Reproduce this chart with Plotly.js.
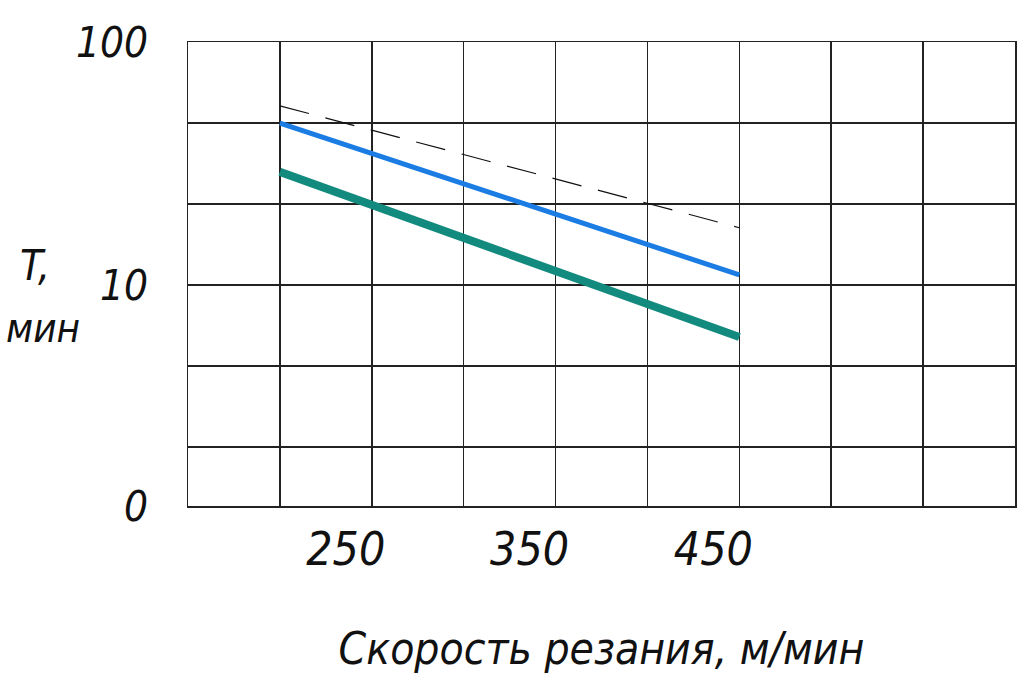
<!DOCTYPE html>
<html><head><meta charset="utf-8">
<script src="https://cdn.plot.ly/plotly-3.0.1.min.js"></script>
<style>html,body{margin:0;padding:0;background:#fff}#chart{width:1028px;height:682px}</style>
</head><body><div id="chart"></div>
<script>
const speed = [200, 450];
const tBlue = [46.4, 11.0];
const tTeal = [29.2, 6.1];
const tDashed = [54.6, 17.2];
const xTickVals = [250, 350, 450];
const xTickText = ['250', '350', '450'];
const yTickVals = [1.23, 2.154, 4.642, 10, 21.54, 46.42, 100];
const yTickText = ['0', '', '', '10', '', '', '100'];
const xTitle = 'Скорость резания, м/мин';
const yTitleLines = ['T,', 'мин'];

const F = '"DejaVu Sans Condensed", "Liberation Sans Narrow", sans-serif';
const traces = [
  {x: speed, y: tDashed, mode: 'lines', line: {color: '#111', width: 1.2, dash: '30px,17px'}, hoverinfo: 'skip'},
  {x: speed, y: tBlue, mode: 'lines', line: {color: '#1b7de3', width: 5}, hoverinfo: 'skip'},
  {x: speed, y: tTeal, mode: 'lines', line: {color: '#138a7e', width: 8}, hoverinfo: 'skip'}
];
const layout = {
  width: 1028, height: 682,
  margin: {l: 188, r: 13, t: 42, b: 176},
  paper_bgcolor: '#fff', plot_bgcolor: '#fff',
  showlegend: false,
  font: {family: F, color: '#111'},
  xaxis: {
    range: [150, 600],
    showgrid: true, gridcolor: '#222', gridwidth: 1.5,
    zeroline: false, showline: true, linecolor: '#222', linewidth: 1.5, mirror: true,
    tickmode: 'array', tickvals: [150,200,250,300,350,400,450,500,550,600],
    ticktext: ['', '', xTickText[0], '', xTickText[1], '', xTickText[2], '', '', ''],
    ticks: '', ticklabelstandoff: 2, ticklabelshift: -26,
    tickfont: {family: F, size: 46, style: 'italic', color: '#111'},
    title: {text: xTitle, standoff: 58, font: {family: F, size: 44, style: 'italic', color: '#111'}}
  },
  yaxis: {
    type: 'log', range: [Math.log10(1.23), 2],
    tickmode: 'array', tickvals: yTickVals, ticktext: yTickText,
    showgrid: true, gridcolor: '#222', gridwidth: 1.5,
    zeroline: false, showline: true, linecolor: '#222', linewidth: 1.5, mirror: true,
    ticks: '', ticklabelstandoff: 30,
    tickfont: {family: F, size: 42, style: 'italic', color: '#111'}
  },
  annotations: [
    {text: yTitleLines[0], xref: 'paper', yref: 'paper', x: -0.205, y: 0.519,
     xanchor: 'left', yanchor: 'middle', showarrow: false,
     font: {family: F, size: 42, style: 'italic', color: '#111'}},
    {text: yTitleLines[1], xref: 'paper', yref: 'paper', x: -0.222, y: 0.384,
     xanchor: 'left', yanchor: 'middle', showarrow: false,
     font: {family: F, size: 40, style: 'italic', color: '#111'}}
  ]
};
Plotly.newPlot('chart', traces, layout, {displayModeBar: false, staticPlot: true});
</script></body></html>
